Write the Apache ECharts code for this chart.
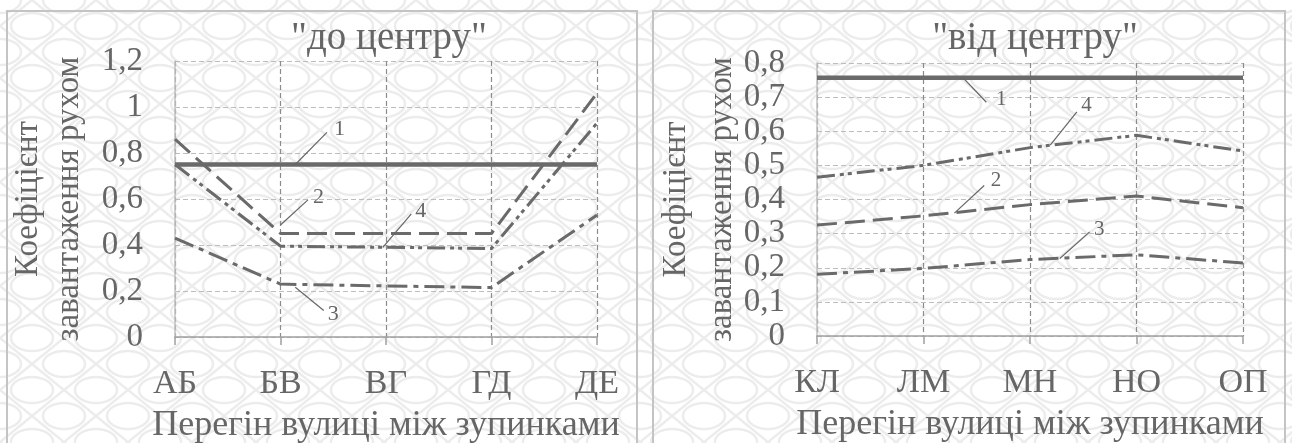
<!DOCTYPE html>
<html>
<head>
<meta charset="utf-8">
<script src="https://cdn.jsdelivr.net/npm/echarts@6/dist/echarts.min.js"></script>
<style>
  html, body { margin: 0; padding: 0; width: 1292px; height: 443px; overflow: hidden; }
  body {
    background-color: #ffffff;
    background-image: url("data:image/svg+xml;utf8,<svg xmlns='http://www.w3.org/2000/svg' width='64' height='52'><g fill='none' stroke='%23ececec' stroke-width='2.5'><ellipse cx='32' cy='26' rx='21' ry='13'/><ellipse cx='0' cy='0' rx='21' ry='13'/><ellipse cx='64' cy='0' rx='21' ry='13'/><ellipse cx='0' cy='52' rx='21' ry='13'/><ellipse cx='64' cy='52' rx='21' ry='13'/><path d='M0 26 L32 0 L64 26 L32 52 Z'/></g></svg>");
    background-size: 64px 52px;
  }
  .panel { position: absolute; top: 10px; height: 470px; border: 2px solid #c4c4c4; box-sizing: border-box; }
  #chart { position: absolute; left: 0; top: 0; width: 1292px; height: 443px; }
</style>
</head>
<body>
<div class="panel" style="left:6px; width:632px;"></div>
<div class="panel" style="left:652px; width:634px;"></div>
<div id="chart"></div>
<script>
// ---- data ----
const catsTo = ['АБ', 'БВ', 'ВГ', 'ГД', 'ДЕ'];
const catsFrom = ['КЛ', 'ЛМ', 'МН', 'НО', 'ОП'];
const titleTo = '"до центру"';
const titleFrom = '"від центру"';
const xTitle = 'Перегін вулиці між зупинками';
const yTitle = 'Коефіцієнт\nзавантаження рухом';

const to1 = [0.75, 0.75, 0.75, 0.75, 0.75];
const to2 = [0.86, 0.45, 0.45, 0.45, 1.06];
const to3 = [0.43, 0.23, 0.222, 0.215, 0.53];
const to4 = [0.75, 0.395, 0.39, 0.385, 0.93];

const from1 = [0.757, 0.757, 0.757, 0.757, 0.757];
const from2 = [0.325, 0.352, 0.385, 0.41, 0.376];
const from3 = [0.181, 0.198, 0.224, 0.238, 0.214];
const from4 = [0.465, 0.5, 0.552, 0.588, 0.542];

// curve number labels: text, leader line (from, to), label anchor  (x in category index units)
const numLabels = ['1', '2', '3', '4'];
const leadersTo = [[[1.14, 0.75], [1.44, 0.89]], [[1.0, 0.487], [1.26, 0.596]], [[1.14, 0.216], [1.41, 0.115]], [[1.97, 0.39], [2.24, 0.535]]];
const labelAtTo = [[1.56, 0.905], [1.36, 0.607], [1.50, 0.10], [2.33, 0.545]];
const leadersFrom = [[[1.37, 0.757], [1.59, 0.685]], [[1.29, 0.36], [1.57, 0.441]], [[2.28, 0.227], [2.56, 0.305]], [[2.19, 0.559], [2.44, 0.657]]];
const labelAtFrom = [[1.73, 0.692], [1.68, 0.455], [2.65, 0.312], [2.53, 0.675]];

// ---- styling ----
const FONT = 'Liberation Serif';
const TXT = '#666666';
const LINE = '#6a6a6a';
const dashStyles = [
  { width: 4.5, type: 'solid' },
  { width: 3, type: [20, 8] },
  { width: 3, type: [20, 6, 5, 6] },
  { width: 3, type: [18, 5, 4, 4, 4, 5] }
];

function pts(arr) { return arr.map((v, i) => [i, v]); }
function fmtNum(v) { return String(+v.toFixed(1)).replace('.', ','); }

function xAxisFor(gridIndex, cats) {
  return {
    type: 'value', gridIndex, min: 0, max: cats.length - 1, interval: 1,
    name: xTitle, nameLocation: 'middle', nameGap: 71, nameMoveOverlap: false,
    nameTextStyle: { fontFamily: FONT, fontSize: 36, color: TXT },
    axisLine: { show: true, onZero: false, lineStyle: { color: '#a0a0a0', width: 1.5 } },
    axisTick: { show: true, length: 8, lineStyle: { color: '#a0a0a0', width: 1.5 } },
    axisLabel: { margin: 30, fontFamily: FONT, fontSize: 34, color: TXT, formatter: v => cats[v] },
    splitLine: { show: true, lineStyle: { color: '#8c8c8c', type: [5, 3], width: 1.2 } }
  };
}
function yAxisFor(gridIndex, max, interval, gap, lh) {
  return {
    type: 'value', gridIndex, min: 0, max, interval,
    name: yTitle, nameLocation: 'middle', nameRotate: 90, nameGap: gap, nameMoveOverlap: false,
    nameTextStyle: { fontFamily: FONT, fontSize: 33, color: TXT, lineHeight: lh, align: 'center' },
    axisLine: { show: true, lineStyle: { color: '#c0c0c0', width: 1.5 } },
    axisTick: { show: false },
    axisLabel: { margin: 32, fontFamily: FONT, fontSize: 33, color: TXT, formatter: fmtNum },
    splitLine: { show: true, lineStyle: { color: '#bdbdbd', type: [5, 3], width: 1 } }
  };
}

function seriesFor(gridIndex, datasets, leaders, labelAt, labelSize) {
  return datasets.map((d, k) => {
    const s = {
      type: 'line', xAxisIndex: gridIndex, yAxisIndex: gridIndex,
      data: pts(d), showSymbol: false, symbol: 'none', silent: true, animation: false,
      lineStyle: Object.assign({ color: LINE }, dashStyles[k]), z: 3
    };
    s.markLine = {
      silent: true, animation: false, symbol: ['none', 'none'],
      lineStyle: { type: 'solid', width: 1.2, color: '#666' },
      label: { show: false },
      data: [[{ coord: leaders[k][0] }, { coord: leaders[k][1] }]]
    };
    s.markPoint = {
      silent: true, animation: false, symbol: 'circle', symbolSize: 1,
      itemStyle: { color: 'rgba(0,0,0,0)' },
      label: { show: true, position: 'inside', formatter: numLabels[k], fontFamily: FONT, fontSize: labelSize, color: '#666' },
      data: [{ coord: labelAt[k], value: numLabels[k] }]
    };
    return s;
  });
}

const chart = echarts.init(document.getElementById('chart'), null, { renderer: 'canvas' });
chart.setOption({
  animation: false,
  backgroundColor: 'transparent',
  title: [
    { text: titleTo, left: 384, top: 14, textAlign: 'center', textStyle: { fontFamily: FONT, fontSize: 39, fontWeight: 'normal', color: TXT } },
    { text: titleFrom, left: 1030, top: 14, textAlign: 'center', textStyle: { fontFamily: FONT, fontSize: 39, fontWeight: 'normal', color: TXT } }
  ],
  grid: [
    { left: 175, top: 61, width: 422, height: 276, containLabel: false, outerBoundsMode: 'none' },
    { left: 817, top: 63, width: 426, height: 273, containLabel: false, outerBoundsMode: 'none' }
  ],
  xAxis: [xAxisFor(0, catsTo), xAxisFor(1, catsFrom)],
  yAxis: [yAxisFor(0, 1.2, 0.2, 85, 41), yAxisFor(1, 0.8, 0.1, 72, 46)],
  series: [].concat(
    seriesFor(0, [to1, to2, to3, to4], leadersTo, labelAtTo, 22),
    seriesFor(1, [from1, from2, from3, from4], leadersFrom, labelAtFrom, 21)
  )
});
</script>
</body>
</html>
